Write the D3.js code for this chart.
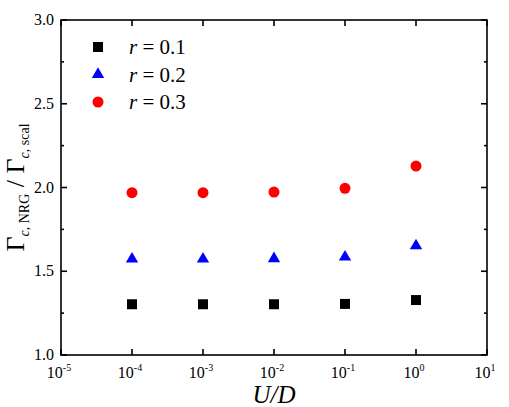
<!DOCTYPE html>
<html>
<head>
<meta charset="utf-8">
<script src="https://cdn.jsdelivr.net/npm/d3@7"></script>
<style>
  body { margin: 0; background: #fff; }
</style>
</head>
<body>
<svg id="chart" width="509" height="407"></svg>
<script>
// data
let uOverD = [1e-4, 1e-3, 1e-2, 1e-1, 1]
let r01 = [1.303, 1.303, 1.303, 1.305, 1.328]
let r02 = [1.573, 1.573, 1.575, 1.585, 1.652]
let r03 = [1.969, 1.969, 1.973, 1.995, 2.128]
let seriesNames = ["0.1", "0.2", "0.3"]
let xTickExp = [-5, -4, -3, -2, -1, 0, 1]
let yTicks = [1.0, 1.5, 2.0, 2.5, 3.0]
let yMinorTicks = [1.25, 1.75, 2.25, 2.75]

let margin = { left: 61, right: 22, top: 20, bottom: 52 }
let width = 509, height = 407
let serif = "Liberation Serif, DejaVu Serif"

let svg = d3.select("#chart")

let xScale = d3.scaleLog()
    .domain([1e-5, 10])
    .range([margin.left, width - margin.right])
let yScale = d3.scaleLinear()
    .domain([1, 3])
    .range([height - margin.bottom, margin.top])

let x0 = margin.left, x1 = width - margin.right
let y0 = height - margin.bottom, y1 = margin.top

// 坐标轴
let axisG = svg.append("g").attr("stroke", "#000").attr("stroke-width", 1.6)

function tickLines(g, vals, scale, along, pos, dir, len) {
    g.selectAll(null).data(vals).enter().append("line")
        .attr(along === "x" ? "x1" : "y1", d => scale(d))
        .attr(along === "x" ? "x2" : "y2", d => scale(d))
        .attr(along === "x" ? "y1" : "x1", pos)
        .attr(along === "x" ? "y2" : "x2", pos + dir * len)
}

let xTickVals = xTickExp.map(e => Math.pow(10, e))
tickLines(axisG, xTickVals, xScale, "x", y0, -1, 6)
tickLines(axisG, xTickVals, xScale, "x", y1, 1, 6)
tickLines(axisG, yTicks, yScale, "y", x0, 1, 6)
tickLines(axisG, yTicks, yScale, "y", x1, -1, 6)
tickLines(axisG, yMinorTicks, yScale, "y", x0, 1, 3)
tickLines(axisG, yMinorTicks, yScale, "y", x1, -1, 3)

axisG.append("rect")
    .attr("x", x0).attr("y", y1)
    .attr("width", x1 - x0).attr("height", y0 - y1)
    .attr("fill", "none")

// y 刻度标签
svg.append("g").selectAll("text").data(yTicks).enter().append("text")
    .attr("x", x0 - 7)
    .attr("y", d => yScale(d) + 5)
    .attr("text-anchor", "end")
    .style("font-family", serif)
    .attr("font-size", 16)
    .text(d => d.toFixed(1))

// x 刻度标签
let xLab = svg.append("g").selectAll("text").data(xTickExp).enter().append("text")
    .attr("x", d => xScale(Math.pow(10, d)) - 2)
    .attr("y", y0 + 23)
    .attr("text-anchor", "middle")
    .style("font-family", serif)
    .attr("font-size", 16)
xLab.append("tspan").text("10")
xLab.append("tspan")
    .attr("dy", -7)
    .attr("font-size", 10)
    .text(d => d)

// 轴标题
svg.append("text")
    .attr("x", (x0 + x1) / 2)
    .attr("y", 403)
    .attr("text-anchor", "middle")
    .style("font-family", serif)
    .attr("font-size", 25)
    .attr("font-style", "italic")
    .text("U/D")

let yTitle = svg.append("text")
    .attr("transform", "translate(24," + ((y0 + y1) / 2) + ") rotate(-90)")
    .attr("text-anchor", "middle")
    .style("font-family", serif)
    .attr("font-size", 26)
yTitle.append("tspan").text("Γ")
yTitle.append("tspan").attr("font-size", 14).attr("dy", 5).attr("font-style", "italic").text("c")
yTitle.append("tspan").attr("font-size", 14).text(", NRG")
yTitle.append("tspan").attr("dy", -5).text(" / Γ")
yTitle.append("tspan").attr("font-size", 14).attr("dy", 5).attr("font-style", "italic").text("c")
yTitle.append("tspan").attr("font-size", 14).text(", scal")

// 数据点
let series = [
    { values: r01, color: "#000000", shape: d3.symbolSquare, size: 100 },
    { values: r02, color: "#0000ff", shape: d3.symbolTriangle, size: 66 },
    { values: r03, color: "#ff0000", shape: d3.symbolCircle, size: 95 }
]

series.forEach(function (s) {
    let sym = d3.symbol().type(s.shape).size(s.size)
    svg.append("g").selectAll("path")
        .data(s.values)
        .enter()
        .append("path")
        .attr("transform", (d, i) => "translate(" + xScale(uOverD[i]) + "," + yScale(d) + ")")
        .attr("d", sym)
        .attr("fill", s.color)
})

// 图例
let legend = svg.append("g")
series.forEach(function (s, i) {
    let ly = 47 + i * 27.5
    legend.append("path")
        .attr("transform", "translate(98," + ly + ")")
        .attr("d", d3.symbol().type(s.shape).size(s.size))
        .attr("fill", s.color)
    let t = legend.append("text")
        .attr("x", 129)
        .attr("y", ly + 7)
        .style("font-family", serif)
        .attr("font-size", 21)
    t.append("tspan").attr("font-style", "italic").text("r")
    t.append("tspan").text(" = " + seriesNames[i])
})
</script>
</body>
</html>
